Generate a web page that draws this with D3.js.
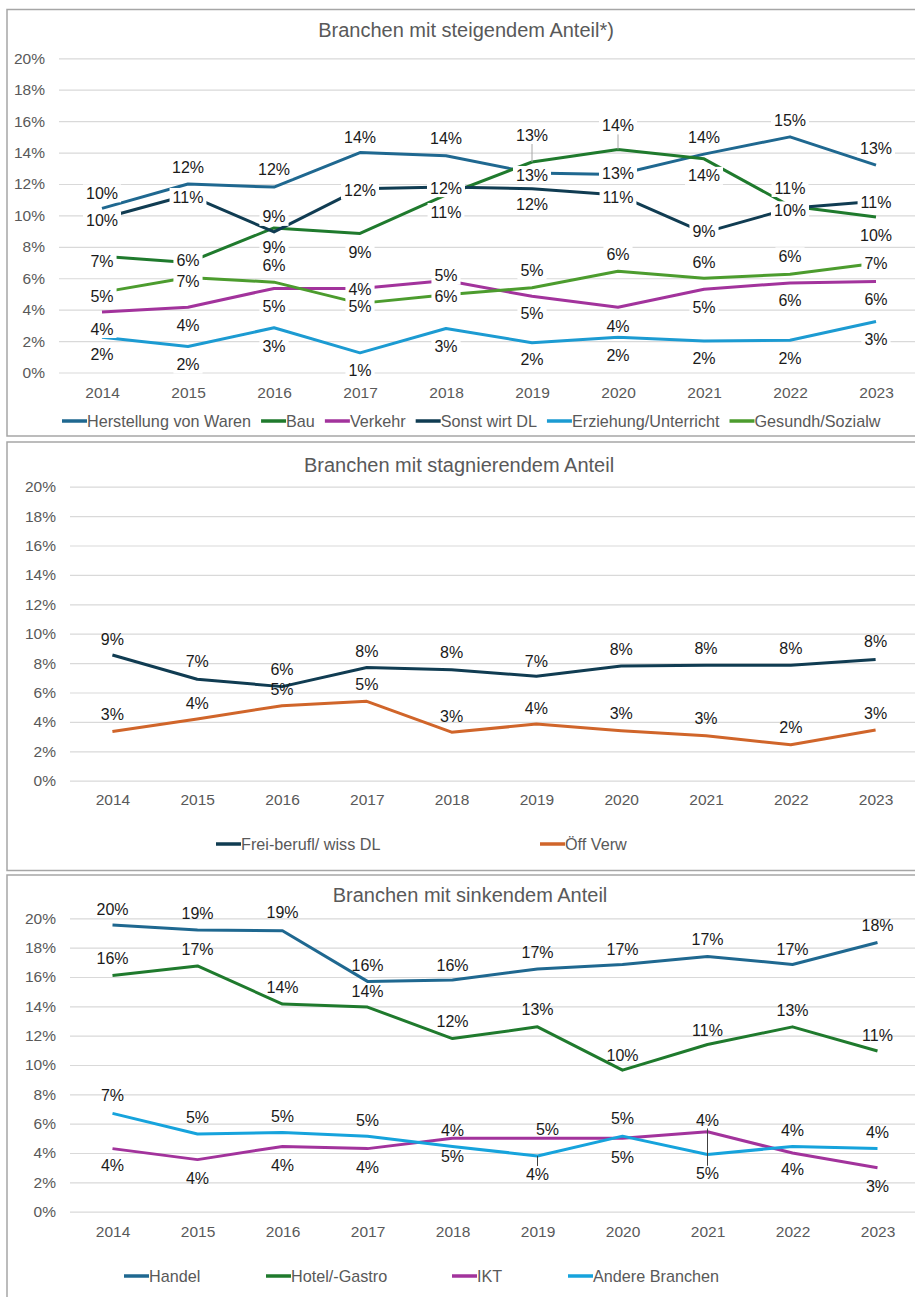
<!DOCTYPE html>
<html>
<head>
<meta charset="utf-8">
<script src="https://cdn.jsdelivr.net/npm/d3@7"></script>
<style>
  body { margin: 0; background: #fff; }
  text { font-family: "Liberation Sans", Arial, sans-serif; }
</style>
</head>
<body>
<svg id="chart" width="915" height="1297"></svg>
<script>
// categories and axis ticks
var years = ['2014', '2015', '2016', '2017', '2018', '2019', '2020', '2021', '2022', '2023'];
var yTicks = [0, 2, 4, 6, 8, 10, 12, 14, 16, 18, 20];

// Branchen mit steigendem Anteil (percent)
var herstellungVonWaren = [10.45, 12.0, 11.8, 14.0, 13.8, 12.7, 12.6, 13.9, 15.0, 13.2];
var bau = [7.4, 7.0, 9.2, 8.85, 11.3, 13.4, 14.2, 13.6, 10.6, 9.9];
var verkehr = [3.85, 4.15, 5.35, 5.35, 5.85, 4.85, 4.15, 5.3, 5.7, 5.8];
var sonstWirtDL = [9.8, 11.3, 8.95, 11.7, 11.8, 11.7, 11.3, 8.9, 10.45, 10.9];
var erziehung = [2.25, 1.65, 2.85, 1.25, 2.8, 1.9, 2.25, 2.0, 2.05, 3.25];
var gesundhSozialw = [5.1, 6.05, 5.75, 4.4, 4.95, 5.4, 6.45, 6.0, 6.25, 6.95];

// Branchen mit stagnierendem Anteil
var freiberufl = [8.55, 6.9, 6.4, 7.7, 7.55, 7.1, 7.8, 7.85, 7.85, 8.25];
var oeffVerw = [3.35, 4.2, 5.1, 5.4, 3.3, 3.85, 3.4, 3.05, 2.45, 3.45];

// Branchen mit sinkendem Anteil
var handel = [19.55, 19.2, 19.15, 15.7, 15.8, 16.55, 16.85, 17.4, 16.85, 18.35];
var hotelGastro = [16.1, 16.75, 14.15, 13.95, 11.8, 12.6, 9.65, 11.4, 12.6, 10.95];
var ikt = [4.3, 3.55, 4.45, 4.3, 5.0, 5.0, 5.0, 5.45, 4.0, 3.0];
var andereBranchen = [6.7, 5.3, 5.4, 5.15, 4.45, 3.8, 5.15, 3.9, 4.45, 4.3];

var pct = function (d) { return Math.round(d) + '%'; };

var svg = d3.select('#chart');
var W = 915;

// label offsets in px (layout only)
var panels = [
  {
    title: 'Branchen mit steigendem Anteil*)', titleX: 466, titleY: 37,
    frame: [9.5, 436], left: 59, right: 919, y0: 372.5, y20: 58.3,
    yLabelX: 45, xLabelY: 398, boxes: true,
    series: [
      { name: 'Herstellung von Waren', values: herstellungVonWaren, color: '#1f6890',
        dy: [-15, -17, -18, -15, -17, 2, -1, -17, -16, -17] },
      { name: 'Bau', values: bau, color: '#1f7a2d',
        dy: [5, 19, 19, 19, 17, -27, -24, 17, -18, 18], leader: [5, 6] },
      { name: 'Verkehr', values: verkehr, color: '#a2339c',
        dy: [17, 18, 18, 18, 16, 17, 19, 18, 17, 18] },
      { name: 'Sonst wirt DL', values: sonstWirtDL, color: '#103c52',
        dy: [2, 2, -15, 2, 1, 16, 2, -1, 2, 1] },
      { name: 'Erziehung/Unterricht', values: erziehung, color: '#1c9bd2',
        dy: [17, 18, 19, 18, 18, 17, 18, 17, 18, 18] },
      { name: 'Gesundh/Sozialw', values: gesundhSozialw, color: '#4c9c2e',
        dy: [4, -17, -17, -14, -19, -17, -17, -16, -18, 0] }
    ],
    legendY: 421, legend: 'flow', legendStart: 62
  },
  {
    title: 'Branchen mit stagnierendem Anteil', titleX: 459, titleY: 472,
    frame: [442, 870.5], left: 70, right: 918, y0: 780.7, y20: 486.7,
    yLabelX: 56, xLabelY: 805, boxes: false,
    series: [
      { name: 'Frei-berufl/ wiss DL', values: freiberufl, color: '#103c52',
        dy: [-16, -18, -17, -16, -17, -15, -17, -17, -17, -18] },
      { name: 'Öff Verw', values: oeffVerw, color: '#d0652a',
        dy: [-17, -16, -16, -17, -16, -16, -17, -17, -17, -17] }
    ],
    legendY: 844, legend: [216, 540]
  },
  {
    title: 'Branchen mit sinkendem Anteil', titleX: 470, titleY: 902,
    frame: [875, 1310], left: 70, right: 920, y0: 1211.7, y20: 918.3,
    yLabelX: 56, xLabelY: 1237, boxes: false,
    series: [
      { name: 'Handel', values: handel, color: '#1f6890',
        dy: [-16, -17, -18, -16, -15, -17, -15, -17, -15, -17] },
      { name: 'Hotel/-Gastro', values: hotelGastro, color: '#1f7a2d',
        dy: [-17, -17, -17, -16, -17, -17, -15, -14, -16, -16] },
      { name: 'IKT', values: ikt, color: '#a2339c',
        dy: [17, 19, 19, 19, 18, -9, 19, 42, 16, 19], dx: { 5: 10 }, leader: [7] },
      { name: 'Andere Branchen', values: andereBranchen, color: '#16a3dc',
        dy: [-18, -17, -16, -16, -16, 18, -18, -34, -16, -16], leader: [5, 7] }
    ],
    legendY: 1276, legend: [124, 266, 452, 568]
  }
];

panels.forEach(function (p) {
  var g = svg.append('g');

  // frame (right edge is cut off in the original)
  g.append('rect')
    .attr('x', 7).attr('y', p.frame[0])
    .attr('width', 1000).attr('height', p.frame[1] - p.frame[0])
    .attr('fill', 'none').attr('stroke', '#a6a6a6').attr('stroke-width', 1.5);

  g.append('text')
    .attr('x', p.titleX).attr('y', p.titleY)
    .attr('text-anchor', 'middle')
    .style('font-size', '20px').style('fill', '#595959')
    .text(p.title);

  var x = d3.scalePoint().domain(years).range([p.left, p.right]).padding(0.5);
  var y = d3.scaleLinear().domain([0, 20]).range([p.y0, p.y20]);

  // y axis with gridlines
  var ya = g.append('g')
    .attr('transform', 'translate(' + p.left + ',0)')
    .call(d3.axisLeft(y).tickValues(yTicks).tickFormat(function (d) { return d + '%'; })
      .tickSize(-(W - p.left)).tickPadding(p.left - p.yLabelX));
  ya.select('.domain').remove();
  ya.selectAll('line').attr('stroke', '#d9d9d9').attr('stroke-width', 1.2);
  ya.selectAll('text').style('font-size', '15.5px').style('fill', '#595959')
    .style('font-family', '"Liberation Sans", Arial, sans-serif');

  // x axis labels
  var xa = g.append('g')
    .attr('transform', 'translate(0,' + p.y0 + ')')
    .call(d3.axisBottom(x).tickSize(0));
  xa.select('.domain').remove();
  xa.selectAll('text')
    .attr('y', p.xLabelY - p.y0).attr('dy', 0)
    .style('font-size', '15.5px').style('fill', '#595959')
    .style('font-family', '"Liberation Sans", Arial, sans-serif');

  var line = d3.line()
    .x(function (d, i) { return x(years[i]); })
    .y(function (d) { return y(d); });

  g.selectAll('path.series')
    .data(p.series)
    .enter()
    .append('path')
    .attr('class', 'series')
    .attr('d', function (s) { return line(s.values); })
    .attr('fill', 'none')
    .attr('stroke', function (s) { return s.color; })
    .attr('stroke-width', 3)
    .attr('stroke-linejoin', 'round');

  // leader lines
  p.series.forEach(function (s) {
    (s.leader || []).forEach(function (i) {
      var py = y(s.values[i]);
      var ly = py + s.dy[i];
      var edge = s.dy[i] < 0 ? ly + 8 : ly - 8;
      g.append('line')
        .attr('x1', x(years[i])).attr('x2', x(years[i]))
        .attr('y1', py).attr('y2', edge)
        .attr('stroke', p.boxes ? '#a6a6a6' : '#404040')
        .attr('stroke-width', 1);
    });
  });

  // data labels
  var labels = g.append('g');
  p.series.forEach(function (s) {
    s.values.forEach(function (v, i) {
      var lx = x(years[i]) + ((s.dx && s.dx[i]) || 0);
      var ly = y(v) + s.dy[i];
      var lg = labels.append('g');
      var t = lg.append('text')
        .attr('x', lx).attr('y', ly).attr('dy', '0.35em')
        .attr('text-anchor', 'middle')
        .style('font-size', '16px').style('fill', '#1a1a1a')
        .text(pct(v));
      if (p.boxes) {
        var b = t.node().getBBox();
        lg.insert('rect', 'text')
          .attr('x', b.x - 3).attr('y', ly - 9)
          .attr('width', b.width + 6).attr('height', 18)
          .attr('fill', '#fff');
      }
    });
  });

  // legend
  var leg = g.append('g');
  var cx = p.legendStart;
  p.series.forEach(function (s, i) {
    var lx = p.legend === 'flow' ? cx : p.legend[i];
    leg.append('line')
      .attr('x1', lx).attr('x2', lx + 25)
      .attr('y1', p.legendY).attr('y2', p.legendY)
      .attr('stroke', s.color).attr('stroke-width', 3.5);
    var t = leg.append('text')
      .attr('x', lx + 25).attr('y', p.legendY).attr('dy', '0.35em')
      .style('font-size', '16.2px').style('fill', '#595959')
      .text(s.name);
    cx = lx + 25 + t.node().getComputedTextLength() + 10;
  });
});
</script>
</body>
</html>
